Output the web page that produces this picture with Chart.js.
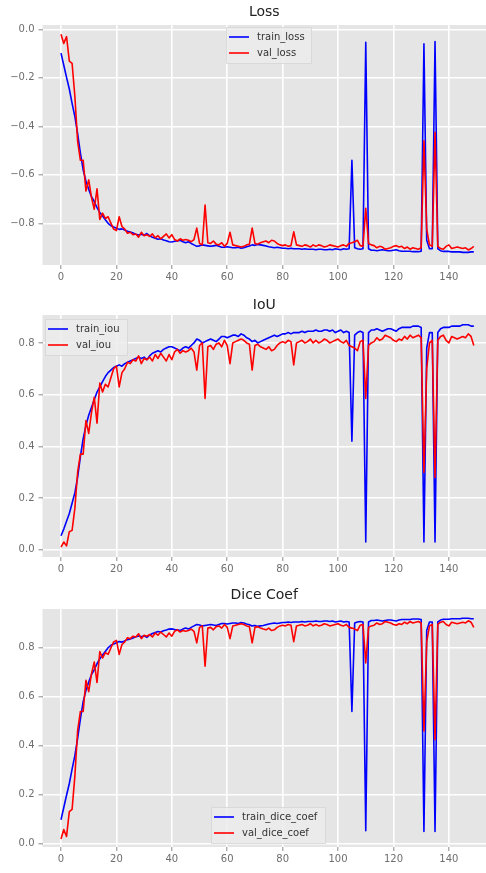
<!DOCTYPE html>
<html><head><meta charset="utf-8">
<script src="https://cdn.jsdelivr.net/npm/chart.js@4.4.1/dist/chart.umd.min.js"></script>
<style>
html,body{margin:0;padding:0;background:#fff;width:486px;height:873px;overflow:hidden}
.box{position:absolute;left:0;width:486px}
canvas{display:block}
</style></head><body>
<div class="box" style="top:0;height:290px"><canvas id="c1" width="486" height="290"></canvas></div>
<div class="box" style="top:290px;height:290px"><canvas id="c2" width="486" height="290"></canvas></div>
<div class="box" style="top:580px;height:293px"><canvas id="c3" width="486" height="293"></canvas></div>
<script>
const EPOCHS = Array.from({length:150},(_,i)=>i);
const X_TICKS = [0,20,40,60,80,100,120,140];
const LOSS_TICKS = [-0.8,-0.6,-0.4,-0.2,0];
const METRIC_TICKS = [0,0.2,0.4,0.6,0.8];

const TRAIN_LOSS = [
-0.098,-0.148,-0.198,-0.246,-0.305,-0.36,-0.43,-0.51,-0.58,-0.625,
-0.66,-0.69,-0.71,-0.735,-0.755,-0.77,-0.785,-0.80,-0.81,-0.815,
-0.82,-0.825,-0.823,-0.828,-0.833,-0.836,-0.84,-0.845,-0.848,-0.845,
-0.849,-0.842,-0.852,-0.858,-0.862,-0.866,-0.864,-0.869,-0.872,-0.876,
-0.877,-0.874,-0.873,-0.870,-0.876,-0.880,-0.876,-0.883,-0.889,-0.895,
-0.893,-0.889,-0.891,-0.893,-0.895,-0.893,-0.891,-0.895,-0.899,-0.899,
-0.897,-0.899,-0.901,-0.901,-0.899,-0.903,-0.901,-0.897,-0.894,-0.889,
-0.891,-0.887,-0.889,-0.891,-0.894,-0.897,-0.899,-0.901,-0.899,-0.901,
-0.903,-0.903,-0.905,-0.903,-0.905,-0.905,-0.905,-0.907,-0.905,-0.907,
-0.907,-0.907,-0.909,-0.907,-0.907,-0.909,-0.909,-0.907,-0.909,-0.905,
-0.907,-0.909,-0.905,-0.907,-0.905,-0.54,-0.901,-0.905,-0.907,-0.905,
-0.053,-0.905,-0.911,-0.911,-0.913,-0.911,-0.909,-0.911,-0.913,-0.913,
-0.911,-0.909,-0.913,-0.915,-0.915,-0.915,-0.915,-0.917,-0.917,-0.917,
-0.915,-0.06,-0.87,-0.905,-0.905,-0.05,-0.905,-0.913,-0.916,-0.916,
-0.916,-0.918,-0.918,-0.918,-0.918,-0.920,-0.920,-0.920,-0.918,-0.918];

const VAL_LOSS = [
-0.020,-0.058,-0.030,-0.131,-0.140,-0.276,-0.462,-0.540,-0.540,-0.667,
-0.621,-0.693,-0.742,-0.658,-0.784,-0.758,-0.780,-0.773,-0.799,-0.824,
-0.830,-0.773,-0.813,-0.824,-0.841,-0.837,-0.847,-0.844,-0.857,-0.837,
-0.851,-0.847,-0.854,-0.844,-0.860,-0.851,-0.864,-0.854,-0.844,-0.860,
-0.847,-0.867,-0.873,-0.864,-0.870,-0.867,-0.870,-0.876,-0.867,-0.820,
-0.883,-0.889,-0.725,-0.880,-0.883,-0.873,-0.886,-0.889,-0.880,-0.895,
-0.883,-0.837,-0.889,-0.892,-0.895,-0.898,-0.895,-0.889,-0.886,-0.820,
-0.883,-0.886,-0.880,-0.876,-0.873,-0.880,-0.870,-0.873,-0.883,-0.889,
-0.892,-0.889,-0.895,-0.892,-0.835,-0.889,-0.892,-0.895,-0.889,-0.892,
-0.898,-0.889,-0.895,-0.889,-0.892,-0.898,-0.895,-0.889,-0.892,-0.895,
-0.898,-0.892,-0.889,-0.895,-0.883,-0.880,-0.876,-0.870,-0.892,-0.895,
-0.738,-0.883,-0.889,-0.892,-0.901,-0.895,-0.898,-0.907,-0.904,-0.901,
-0.895,-0.892,-0.898,-0.895,-0.904,-0.898,-0.907,-0.901,-0.904,-0.907,
-0.901,-0.460,-0.824,-0.889,-0.895,-0.425,-0.895,-0.904,-0.907,-0.895,
-0.889,-0.904,-0.901,-0.898,-0.901,-0.904,-0.901,-0.910,-0.904,-0.895];

const TRAIN_IOU = [
0.054,0.08,0.11,0.14,0.18,0.22,0.28,0.36,0.43,0.48,
0.52,0.55,0.58,0.61,0.63,0.65,0.67,0.685,0.695,0.705,
0.71,0.715,0.71,0.72,0.725,0.73,0.735,0.74,0.745,0.74,
0.745,0.735,0.75,0.76,0.765,0.77,0.765,0.775,0.78,0.785,
0.785,0.78,0.775,0.77,0.78,0.785,0.78,0.79,0.80,0.815,
0.81,0.80,0.805,0.81,0.815,0.81,0.805,0.815,0.825,0.825,
0.82,0.825,0.83,0.83,0.825,0.835,0.83,0.82,0.815,0.805,
0.81,0.80,0.805,0.81,0.815,0.82,0.825,0.83,0.825,0.83,
0.835,0.835,0.84,0.835,0.84,0.84,0.84,0.845,0.84,0.845,
0.845,0.845,0.85,0.845,0.845,0.85,0.85,0.845,0.85,0.84,
0.845,0.85,0.84,0.845,0.84,0.42,0.83,0.84,0.845,0.84,
0.03,0.84,0.85,0.85,0.855,0.85,0.845,0.85,0.855,0.855,
0.85,0.845,0.855,0.86,0.86,0.86,0.86,0.865,0.865,0.865,
0.86,0.03,0.78,0.84,0.84,0.03,0.84,0.855,0.86,0.86,
0.86,0.865,0.865,0.865,0.865,0.87,0.87,0.87,0.865,0.865];

const VAL_IOU = [
0.01,0.03,0.015,0.07,0.075,0.16,0.30,0.37,0.37,0.50,
0.45,0.53,0.59,0.49,0.645,0.61,0.64,0.63,0.665,0.70,
0.71,0.63,0.685,0.70,0.725,0.72,0.735,0.73,0.75,0.72,
0.74,0.735,0.745,0.73,0.755,0.74,0.76,0.745,0.73,0.755,
0.735,0.765,0.775,0.76,0.77,0.765,0.77,0.78,0.765,0.695,
0.79,0.80,0.585,0.785,0.79,0.775,0.795,0.80,0.785,0.81,
0.79,0.72,0.80,0.805,0.81,0.815,0.81,0.80,0.795,0.695,
0.79,0.795,0.785,0.78,0.775,0.785,0.77,0.775,0.79,0.80,
0.805,0.80,0.81,0.805,0.715,0.80,0.805,0.81,0.80,0.805,
0.815,0.80,0.81,0.80,0.805,0.815,0.81,0.80,0.805,0.81,
0.815,0.805,0.80,0.81,0.79,0.785,0.78,0.77,0.805,0.81,
0.585,0.79,0.80,0.805,0.82,0.81,0.815,0.83,0.825,0.82,
0.81,0.805,0.815,0.81,0.825,0.815,0.83,0.82,0.825,0.83,
0.82,0.30,0.70,0.80,0.81,0.28,0.81,0.825,0.83,0.81,
0.80,0.825,0.82,0.815,0.82,0.825,0.82,0.835,0.825,0.79];

const TRAIN_DICE = [
0.098,0.148,0.198,0.246,0.305,0.36,0.43,0.51,0.58,0.625,
0.66,0.69,0.71,0.735,0.755,0.77,0.785,0.80,0.81,0.815,
0.82,0.825,0.823,0.828,0.833,0.836,0.84,0.845,0.848,0.845,
0.849,0.842,0.852,0.858,0.862,0.866,0.864,0.869,0.872,0.876,
0.877,0.874,0.873,0.870,0.876,0.880,0.876,0.883,0.889,0.895,
0.893,0.889,0.891,0.893,0.895,0.893,0.891,0.895,0.899,0.899,
0.897,0.899,0.901,0.901,0.899,0.903,0.901,0.897,0.894,0.889,
0.891,0.887,0.889,0.891,0.894,0.897,0.899,0.901,0.899,0.901,
0.903,0.903,0.905,0.903,0.905,0.905,0.905,0.907,0.905,0.907,
0.907,0.907,0.909,0.907,0.907,0.909,0.909,0.907,0.909,0.905,
0.907,0.909,0.905,0.907,0.905,0.54,0.901,0.905,0.907,0.905,
0.053,0.905,0.911,0.911,0.913,0.911,0.909,0.911,0.913,0.913,
0.911,0.909,0.913,0.915,0.915,0.915,0.915,0.917,0.917,0.917,
0.915,0.05,0.87,0.905,0.905,0.05,0.905,0.913,0.916,0.916,
0.916,0.918,0.918,0.918,0.918,0.920,0.920,0.920,0.918,0.918];

const VAL_DICE = [
0.020,0.058,0.030,0.131,0.140,0.276,0.462,0.540,0.540,0.667,
0.621,0.693,0.742,0.658,0.784,0.758,0.780,0.773,0.799,0.824,
0.830,0.773,0.813,0.824,0.841,0.837,0.847,0.844,0.857,0.837,
0.851,0.847,0.854,0.844,0.860,0.851,0.864,0.854,0.844,0.860,
0.847,0.867,0.873,0.864,0.870,0.867,0.870,0.876,0.867,0.820,
0.883,0.889,0.725,0.880,0.883,0.873,0.886,0.889,0.880,0.895,
0.883,0.837,0.889,0.892,0.895,0.898,0.895,0.889,0.886,0.820,
0.883,0.886,0.880,0.876,0.873,0.880,0.870,0.873,0.883,0.889,
0.892,0.889,0.895,0.892,0.825,0.889,0.892,0.895,0.889,0.892,
0.898,0.889,0.895,0.889,0.892,0.898,0.895,0.889,0.892,0.895,
0.898,0.892,0.889,0.895,0.883,0.880,0.876,0.870,0.892,0.895,
0.738,0.883,0.889,0.892,0.901,0.895,0.898,0.907,0.904,0.901,
0.895,0.892,0.898,0.895,0.904,0.898,0.907,0.901,0.904,0.907,
0.901,0.460,0.824,0.889,0.895,0.425,0.895,0.904,0.907,0.895,
0.889,0.904,0.901,0.898,0.901,0.904,0.901,0.910,0.904,0.883];

const BLUE = '#0000ff', RED = '#ff0000';
const FONT = 'DejaVu Sans';
const TICK_COLOR = '#6e6e6e';

function fmtY(v){ return (Math.abs(v) < 1e-9 ? 0 : v).toFixed(1).replace('-', '\u2212'); }

const bgPlugin = {
  id:'bg',
  beforeDraw(chart){
    const {ctx, chartArea:a} = chart;
    ctx.save(); ctx.fillStyle = '#e5e5e5';
    ctx.fillRect(a.left, a.top, a.right - a.left, a.bottom - a.top);
    ctx.restore();
  }
};

const legendPlugin = {
  id:'boxlegend',
  afterDraw(chart, args, opts){
    if (!opts || !opts.items) return;
    const ctx = chart.ctx;
    ctx.save();
    ctx.fillStyle = 'rgba(236,236,236,0.85)';
    ctx.strokeStyle = 'rgba(215,215,215,0.9)';
    ctx.lineWidth = 1;
    ctx.beginPath();
    ctx.rect(opts.x + 0.5, opts.y + 0.5, opts.w, opts.h);
    ctx.fill(); ctx.stroke();
    ctx.font = '10px "' + FONT + '"';
    ctx.textBaseline = 'middle';
    ctx.fillStyle = '#333';
    opts.items.forEach((it, i) => {
      const yy = opts.y + 10 + i * 16;
      ctx.strokeStyle = it.color; ctx.lineWidth = 1.6;
      ctx.beginPath(); ctx.moveTo(opts.x + 3, yy); ctx.lineTo(opts.x + 23, yy); ctx.stroke();
      ctx.fillText(it.label, opts.x + 31, yy);
    });
    ctx.restore();
  }
};

function makeChart(id, c){
  const ds = [
    {label:c.names[0], data:EPOCHS.map((e,i)=>({x:e,y:c.train[i]})), borderColor:BLUE, order:1},
    {label:c.names[1], data:EPOCHS.map((e,i)=>({x:e,y:c.val[i]})), borderColor:RED, order:0}
  ].map(d => Object.assign(d, {borderWidth:1.6, pointRadius:0, tension:0, fill:false, borderJoinStyle:'round'}));
  return new Chart(document.getElementById(id), {
    type:'line',
    data:{datasets:ds},
    plugins:[bgPlugin, legendPlugin],
    options:{
      responsive:false, animation:false, devicePixelRatio:1, events:[],
      layout:{padding:{left:0,right:0,top:0,bottom:0}},
      plugins:{
        legend:{display:false}, tooltip:{enabled:false},
        title:{display:true, text:c.title, fullSize:false, color:'#222',
          font:{family:FONT, size:14, weight:'normal'}, padding:{top:c.tp, bottom:c.bp}},
        boxlegend:{x:c.lg.x, y:c.lg.y, w:c.lg.w, h:36,
          items:[{label:c.names[0], color:BLUE},{label:c.names[1], color:RED}]}
      },
      scales:{
        x:{type:'linear', min:-6.68, max:153.4,
          afterBuildTicks(s){ s.ticks = X_TICKS.map(v=>({value:v})); },
          afterFit(s){ s.height = c.xh; },
          ticks:{autoSkip:false, maxRotation:0, padding:2, color:TICK_COLOR,
            font:{family:FONT, size:10}, callback:v=>String(v)},
          grid:{color:'#ffffff', lineWidth:1.6, drawTicks:true, tickLength:4, tickColor:'#8a8a8a', tickWidth:1},
          border:{display:false}},
        y:{type:'linear', min:c.ymin, max:c.ymax,
          afterBuildTicks(s){ s.ticks = c.yticks.map(v=>({value:v})); },
          afterFit(s){ s.width = 42.5; },
          ticks:{autoSkip:false, padding:4, color:TICK_COLOR, font:{family:FONT, size:10}, callback:v=>fmtY(v)},
          grid:{color:'#ffffff', lineWidth:1.6, drawTicks:true, tickLength:4, tickColor:'#8a8a8a', tickWidth:1},
          border:{display:false}}
      }
    }
  });
}

makeChart('c1', {title:'Loss', names:['train_loss','val_loss'], train:TRAIN_LOSS, val:VAL_LOSS,
  ymin:-0.972, ymax:0.018, yticks:LOSS_TICKS, tp:3.6, bp:4.6, xh:25, lg:{x:226, y:27, w:85}});
makeChart('c2', {title:'IoU', names:['train_iou','val_iou'], train:TRAIN_IOU, val:VAL_IOU,
  ymin:-0.028, ymax:0.908, yticks:METRIC_TICKS, tp:6.5, bp:1.7, xh:23, lg:{x:45, y:29, w:82}});
makeChart('c3', {title:'Dice Coef', names:['train_dice_coef','val_dice_coef'], train:TRAIN_DICE, val:VAL_DICE,
  ymin:-0.013, ymax:0.958, yticks:METRIC_TICKS, tp:7.1, bp:5.1, xh:26, lg:{x:211, y:227, w:114}});
</script>
</body></html>
